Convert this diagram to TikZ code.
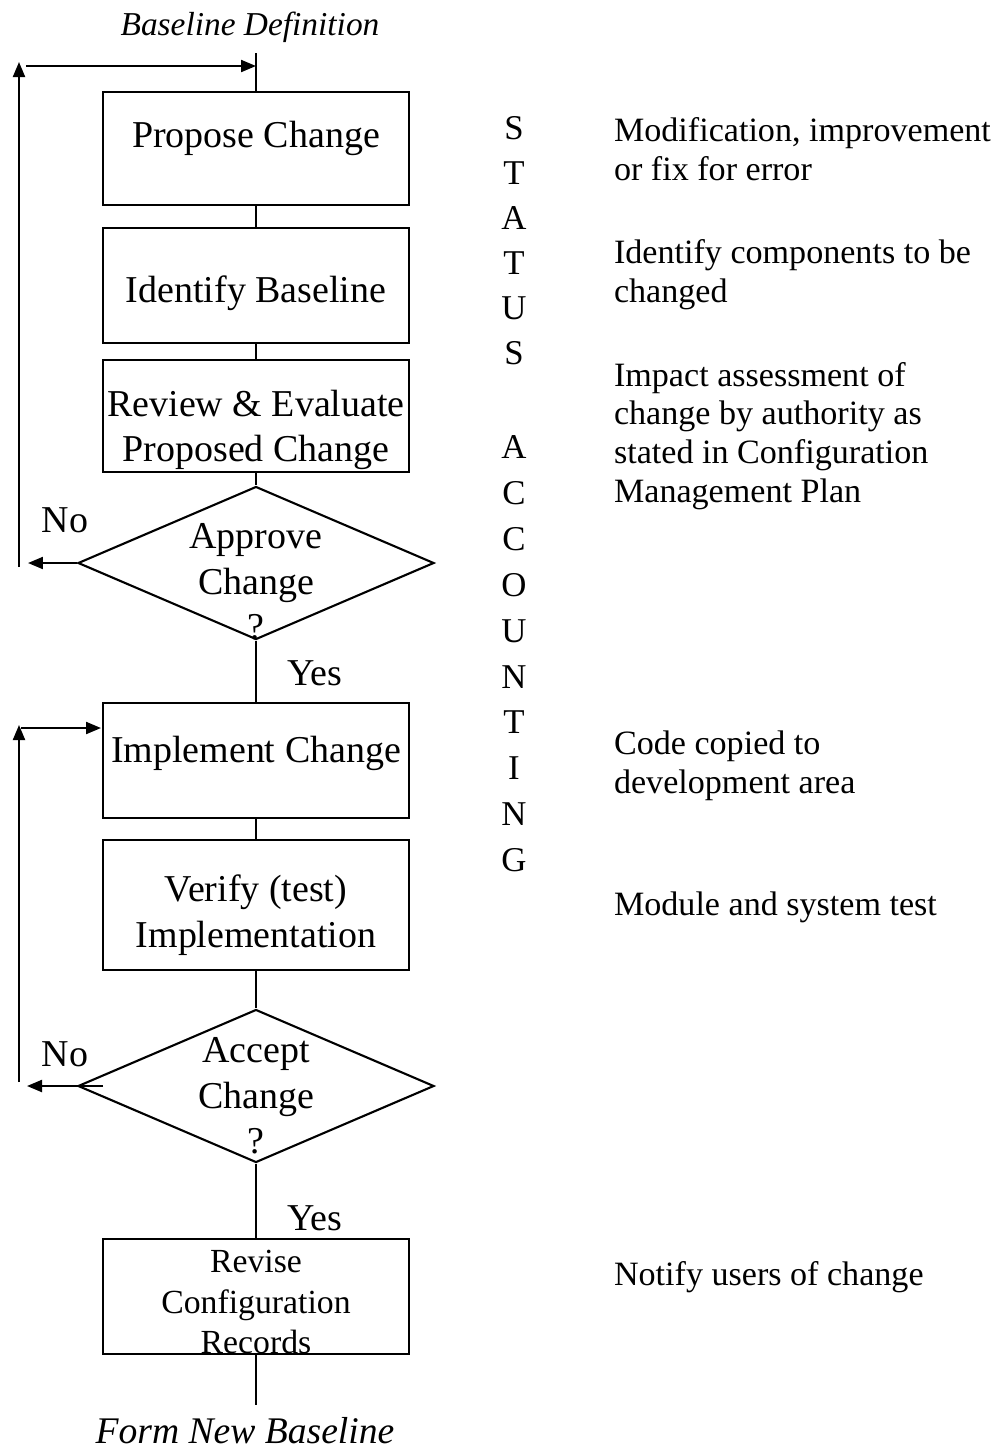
\documentclass[tikz,border=0pt]{standalone}
\usepackage{fontspec}
\setmainfont{Liberation Serif}
\usetikzlibrary{shapes.geometric, arrows.meta, positioning}

\begin{document}
\begin{tikzpicture}[line width=0.6pt, >={Triangle[length=0.15cm, width=0.12cm]},
    box/.style = {draw, rectangle, minimum width=3.06cm, inner sep=0},
    decision/.style = {draw, diamond, minimum width=3.56cm, minimum height=1.53cm, inner sep=0},
    big/.style = {font=\fontsize{10.8}{12.9}\selectfont, align=center, inner sep=0},
    note/.style = {font=\fontsize{9.7}{11}\selectfont, align=left, anchor=base west, inner sep=0}]
    \useasboundingbox (0,0) rectangle (9.98,-14.54);

    % flow
    \node[box, minimum height=1.13cm] (propose) at (2.56,-1.485) {};
    \node[box, minimum height=1.15cm] (ident) at (2.56,-2.855) {};
    \node[box, minimum height=1.12cm] (review) at (2.56,-4.16) {};
    \node[decision] (approve) at (2.56,-5.63) {};
    \node[box, minimum height=1.15cm] (implement) at (2.56,-7.605) {};
    \node[box, minimum height=1.30cm] (verify) at (2.56,-9.05) {};
    \node[decision] (accept) at (2.56,-10.86) {};
    \node[box, minimum height=1.15cm] (revise) at (2.56,-12.965) {};

    \node[big] (proposeT) at ([yshift=0.10cm]propose.center) {Propose Change};
    \node[big] (identT) at ([yshift=-0.075cm]ident.center) {Identify Baseline};
    \node[big] (reviewT) at ([yshift=-0.14cm]review.center) {Review \& Evaluate\\Proposed Change};
    \node[big] (approveT) at ([yshift=-0.19cm]approve.center) {Approve\\Change\\?};
    \node[big] (implementT) at ([yshift=0.075cm]implement.center) {Implement Change};
    \node[big] (verifyT) at ([yshift=-0.10cm]verify.center) {Verify (test)\\Implementation};
    \node[big] (acceptT) at ([yshift=-0.10cm]accept.center) {Accept\\Change\\?};
    \node[big, font=\fontsize{9.6}{11.5}\selectfont] (reviseT) at ([yshift=-0.055cm]revise.center) {Revise\\Configuration\\Records};

    \node[big, font=\fontsize{9.5}{11}\selectfont\itshape] (start) at (2.50,-0.27) {Baseline Definition};
    \node[big, font=\fontsize{10.7}{12}\selectfont\itshape] (finish) at (2.45,-14.31) {Form New Baseline};

    \coordinate (entry) at (2.56,-0.53);
    \coordinate (exit) at (2.56,-14.05);
    \draw (entry) -- (propose.north);
    \draw (propose) -- (ident);
    \draw (ident) -- (review);
    \draw (review) -- (approve);
    \draw (approve) -- (implement);
    \draw (implement) -- (verify);
    \draw (verify) -- (accept);
    \draw (accept) -- (revise);
    \draw (revise) -- (exit);

    \node[big] (yesA) at (3.15,-6.73) {Yes};
    \node[big] (yesB) at (3.15,-12.18) {Yes};
    \node[big] (noA) at (0.65,-5.20) {No};
    \node[big] (noB) at (0.65,-10.54) {No};

    % rejected change loops
    \coordinate (noAend) at (0.28,-5.63);
    \coordinate (loopAlo) at (0.19,-5.67);
    \coordinate (loopAhi) at (0.19,-0.62);
    \coordinate (loopAin) at (0.26,-0.66);
    \coordinate (loopAto) at (2.56,-0.66);
    \draw[->] (approve.west) -- (noAend);
    \draw[->] (loopAlo) -- (loopAhi);
    \draw[->] (loopAin) -- (loopAto);

    \coordinate (noBstart) at (1.03,-10.86);
    \coordinate (noBend) at (0.27,-10.86);
    \coordinate (loopBlo) at (0.19,-10.82);
    \coordinate (loopBhi) at (0.19,-7.25);
    \coordinate (loopBin) at (0.21,-7.28);
    \coordinate (loopBto) at (1.01,-7.28);
    \draw[->] (noBstart) -- (noBend);
    \draw[->] (loopBlo) -- (loopBhi);
    \draw[->] (loopBin) -- (loopBto);

    % status accounting
    \foreach \ch/\y in {S/1.28, T/1.73, A/2.18, T/2.63, U/3.08, S/3.53,
        A/4.47, C/4.93, C/5.39, O/5.85, U/6.31, N/6.77, T/7.22, I/7.68, N/8.14, G/8.60}
        \node[font=\fontsize{9.9}{11}\selectfont, inner sep=0] at (5.14,-\y) {\ch};

    % notes (base = last line)
    \node[note] (noteA) at (6.13,-1.80) {Modification, improvement\\or fix for error};
    \node[note] (noteB) at (6.13,-3.02) {Identify components to be\\changed};
    \node[note] (noteC) at (6.13,-5.02) {Impact assessment of\\change by authority as\\stated in Configuration\\Management Plan};
    \node[note] (noteD) at (6.13,-7.93) {Code copied to\\development area};
    \node[note] (noteE) at (6.13,-9.15) {Module and system test};
    \node[note] (noteF) at (6.13,-12.85) {Notify users of change};
\end{tikzpicture}
\end{document}
